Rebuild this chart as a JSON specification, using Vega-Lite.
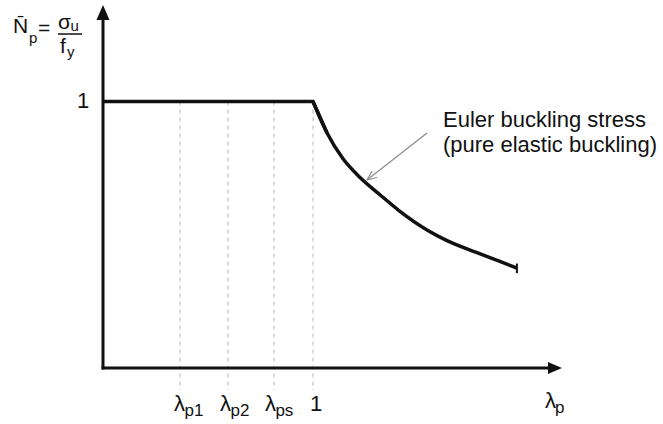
{
  "$schema": "https://vega.github.io/schema/vega-lite/v6.json",
  "width": 663,
  "height": 424,
  "autosize": {"type": "fit", "contains": "padding"},
  "padding": 0,
  "background": "white",
  "config": {"view": {"stroke": null}, "text": {"font": "Liberation Sans", "color": "#111"}},
  "encoding": {
    "x": {"field": "x", "type": "quantitative", "scale": {"domain": [-0.4905, 2.6667], "nice": false, "zero": false}, "axis": null},
    "y": {"field": "y", "type": "quantitative", "scale": {"domain": [-0.2101, 1.3809], "nice": false, "zero": false}, "axis": null}
  },
  "layer": [
    {
      "data": {"values": [
        {"x": 0.367, "y": 1, "x2": 0.367, "y2": -0.083},
        {"x": 0.595, "y": 1, "x2": 0.595, "y2": -0.083},
        {"x": 0.814, "y": 1, "x2": 0.814, "y2": -0.083},
        {"x": 1.0, "y": 1, "x2": 1.0, "y2": -0.083}
      ]},
      "mark": {"type": "rule", "color": "#b5b5b5", "strokeWidth": 1, "strokeDash": [4, 4]},
      "encoding": {"x2": {"field": "x2"}, "y2": {"field": "y2"}}
    },
    {
      "data": {"values": [
        {"x": 0, "y": 0, "x2": 0, "y2": 1.306},
        {"x": 0, "y": 0, "x2": 2.129, "y2": 0}
      ]},
      "mark": {"type": "rule", "color": "#111", "strokeWidth": 3, "strokeCap": "square"},
      "encoding": {"x2": {"field": "x2"}, "y2": {"field": "y2"}}
    },
    {
      "data": {"values": [{"x": 0, "y": 1.334}]},
      "mark": {"type": "point", "shape": "M 0 -1 L 0.87 1 L -0.87 1 Z", "size": 225, "filled": true, "color": "#111", "opacity": 1}
    },
    {
      "data": {"values": [{"x": 2.152, "y": 0}]},
      "mark": {"type": "point", "shape": "M 1 0 L -1 -0.85 L -1 0.85 Z", "size": 196, "filled": true, "color": "#111", "opacity": 1}
    },
    {
      "data": {"values": [{"x": 0, "y": 1}, {"x": 1, "y": 1}, {"x": 1.067, "y": 0.882}]},
      "mark": {"type": "line", "color": "#111", "strokeWidth": 3.5, "strokeJoin": "miter"}
    },
    {
      "data": {"values": [
        {"x": 1, "y": 1}, {"x": 1.067, "y": 0.882}, {"x": 1.143, "y": 0.785},
        {"x": 1.224, "y": 0.715}, {"x": 1.319, "y": 0.65}, {"x": 1.414, "y": 0.588}, {"x": 1.543, "y": 0.518},
        {"x": 1.638, "y": 0.478}, {"x": 1.781, "y": 0.433}, {"x": 1.89, "y": 0.4}, {"x": 1.971, "y": 0.375}
      ]},
      "mark": {"type": "line", "color": "#111", "strokeWidth": 3.5, "strokeJoin": "round", "interpolate": "monotone"}
    },
    {
      "data": {"values": [{"x": 1.971, "y": 0.392, "x2": 1.971, "y2": 0.356}]},
      "mark": {"type": "rule", "color": "#111", "strokeWidth": 2},
      "encoding": {"x2": {"field": "x2"}, "y2": {"field": "y2"}}
    },
    {
      "data": {"values": [
        {"x": 1.543, "y": 0.882, "x2": 1.257, "y2": 0.7054},
        {"x": 1.3048, "y": 0.7148, "x2": 1.257, "y2": 0.7054},
        {"x": 1.281, "y": 0.7392, "x2": 1.257, "y2": 0.7054}
      ]},
      "mark": {"type": "rule", "color": "#8a8a8a", "strokeWidth": 1.2},
      "encoding": {"x2": {"field": "x2"}, "y2": {"field": "y2"}}
    },
    {
      "data": {"values": [{"x": -0.2143, "y": 1.2533, "x2": -0.1, "y2": 1.2533}]},
      "mark": {"type": "rule", "color": "#111", "strokeWidth": 1.5},
      "encoding": {"x2": {"field": "x2"}, "y2": {"field": "y2"}}
    },
    {
      "data": {"values": [
        {"x": -0.124, "y": 0.9756, "t": "1"},
        {"x": 0.986, "y": -0.161, "t": "1"},
        {"x": 0.338, "y": -0.161, "t": "λ"},
        {"x": 0.557, "y": -0.161, "t": "λ"},
        {"x": 0.771, "y": -0.161, "t": "λ"},
        {"x": 2.105, "y": -0.15, "t": "λ"}
      ]},
      "mark": {"type": "text", "fontSize": 22, "align": "left", "baseline": "alphabetic"},
      "encoding": {"text": {"field": "t"}}
    },
    {
      "data": {"values": [
        {"x": 1.619, "y": 0.904, "t": "Euler buckling stress"},
        {"x": 1.619, "y": 0.8105, "t": "(pure elastic buckling)"}
      ]},
      "mark": {"type": "text", "fontSize": 22, "align": "left", "baseline": "alphabetic"},
      "encoding": {"text": {"field": "t"}}
    },
    {
      "data": {"values": [
        {"x": 0.388, "y": -0.18, "t": "p1"},
        {"x": 0.607, "y": -0.18, "t": "p2"},
        {"x": 0.821, "y": -0.18, "t": "ps"},
        {"x": 2.152, "y": -0.168, "t": "p"}
      ]},
      "mark": {"type": "text", "fontSize": 17, "align": "left", "baseline": "alphabetic"},
      "encoding": {"text": {"field": "t"}}
    },
    {
      "data": {"values": [
        {"x": -0.4286, "y": 1.257, "t": "N̄"},
        {"x": -0.3095, "y": 1.2495, "t": "="},
        {"x": -0.2143, "y": 1.272, "t": "σ"},
        {"x": -0.2048, "y": 1.182, "t": "f"}
      ]},
      "mark": {"type": "text", "fontSize": 21, "align": "left", "baseline": "alphabetic"},
      "encoding": {"text": {"field": "t"}}
    },
    {
      "data": {"values": [
        {"x": -0.352, "y": 1.2195, "t": "p"},
        {"x": -0.155, "y": 1.2645, "t": "u"},
        {"x": -0.1714, "y": 1.167, "t": "y"}
      ]},
      "mark": {"type": "text", "fontSize": 15, "align": "left", "baseline": "alphabetic"},
      "encoding": {"text": {"field": "t"}}
    }
  ]
}
